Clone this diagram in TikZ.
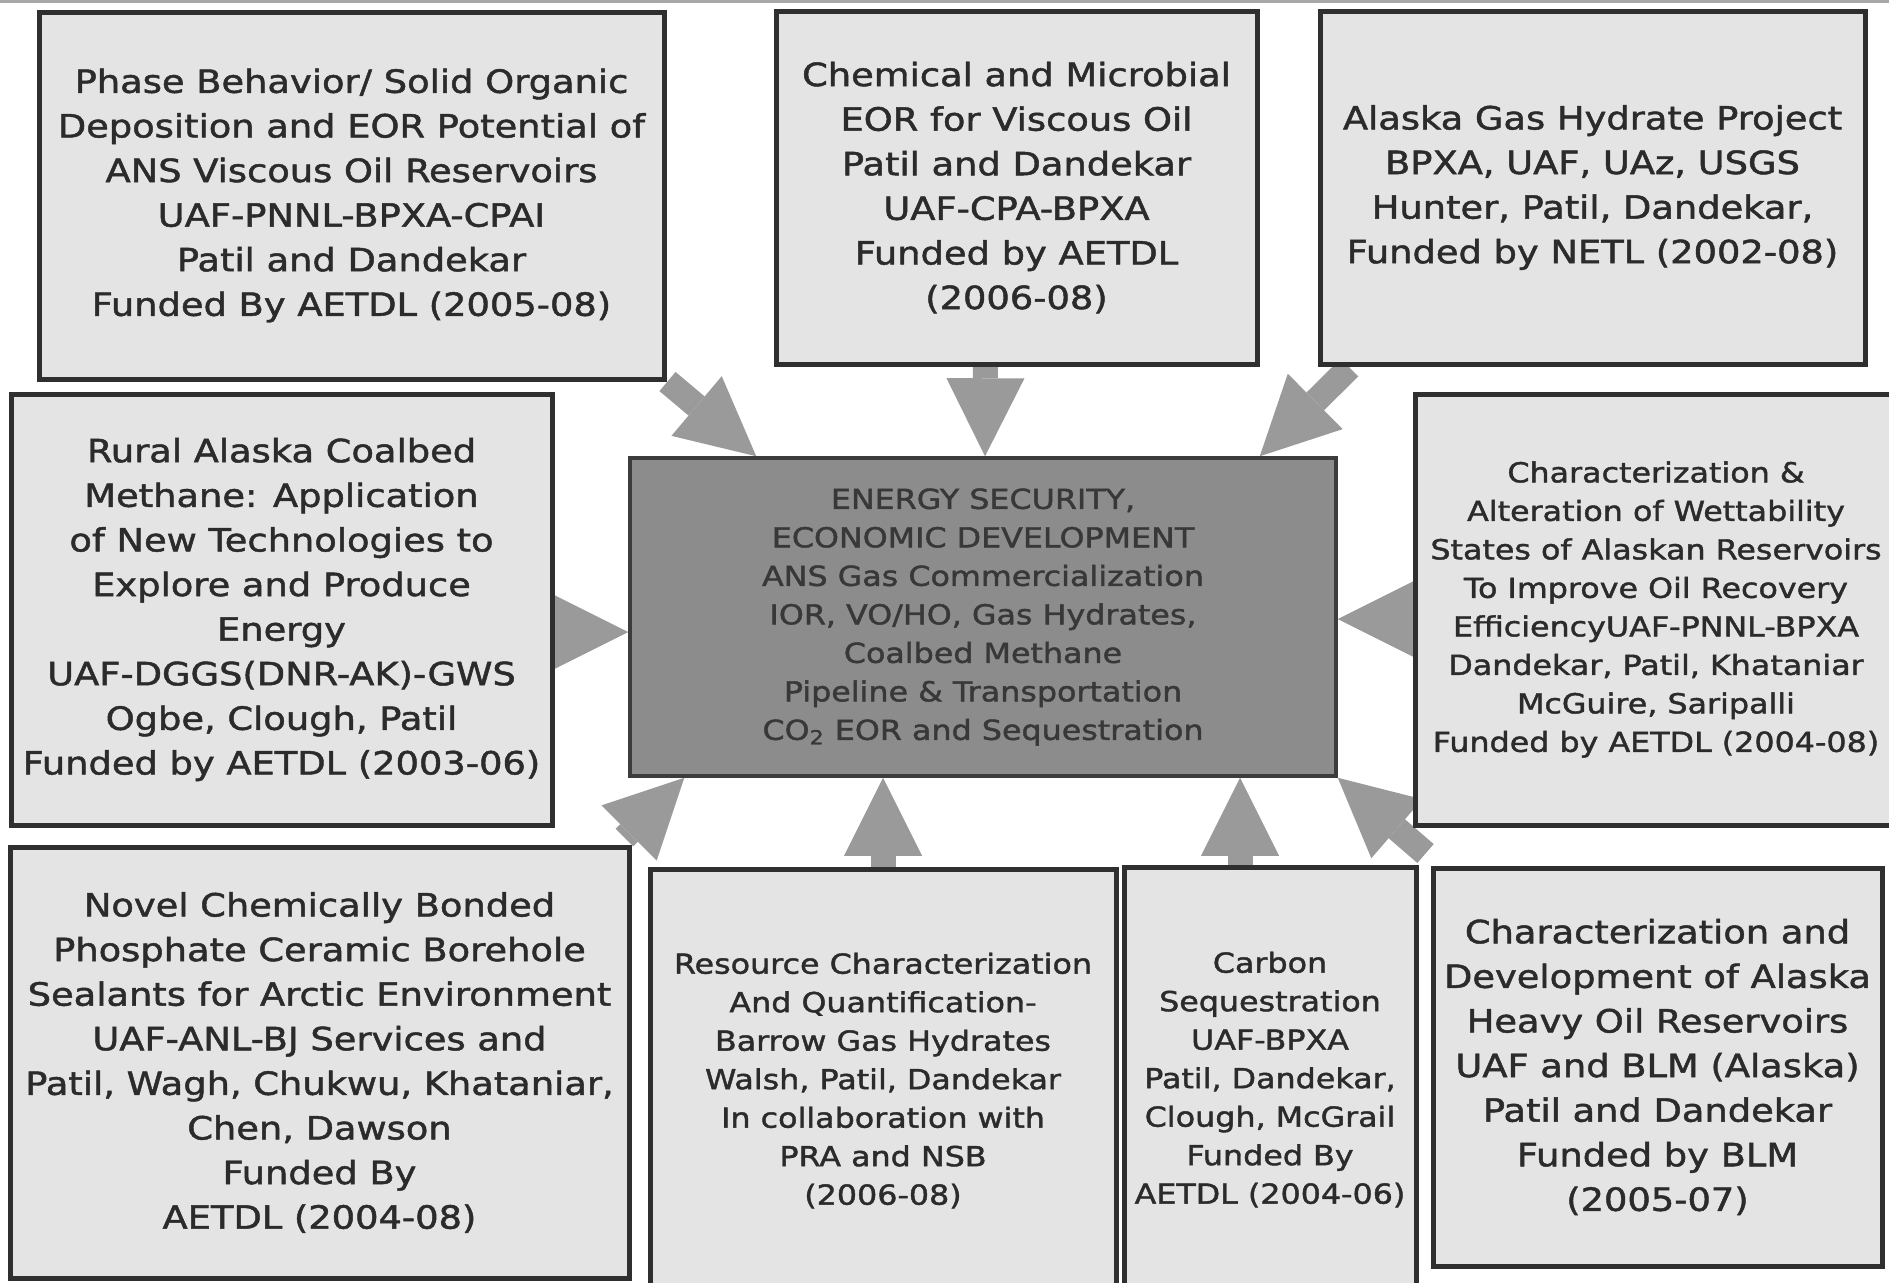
\documentclass[tikz,border=0pt]{standalone}
\usepackage{fontspec}
\setmainfont[FakeStretch=1.15,FakeBold=1.5]{DejaVu Sans}
\usetikzlibrary{arrows.meta,calc}

\definecolor{boxfill}{HTML}{E4E4E4}
\definecolor{boxline}{HTML}{2F2F2F}
\definecolor{boxtext}{HTML}{2B2B2B}
\definecolor{hubfill}{HTML}{8C8C8C}
\definecolor{hubline}{HTML}{3C3C3C}
\definecolor{hubtext}{HTML}{383838}
\definecolor{arrowgray}{HTML}{9A9A9A}
\definecolor{topband}{HTML}{A8A8A8}

\newcommand{\bigtext}{\fontsize{16}{22.3}\selectfont}
\newcommand{\smalltext}{\fontsize{13.8}{19.25}\selectfont}

\pgfdeclarelayer{back}
\pgfsetlayers{back,main}

\begin{document}
\begin{tikzpicture}[x=0.5pt,y=-0.5pt,
  project/.style 2 args={draw=boxline, line width=2.5pt, fill=boxfill, text=boxtext,
    align=center, inner sep=0pt, minimum width=#1*0.5pt, minimum height=#2*0.5pt},
  hub/.style 2 args={draw=hubline, line width=1.75pt, fill=hubfill, text=hubtext,
    align=center, inner sep=0pt, minimum width=#1*0.5pt, minimum height=#2*0.5pt},
  big/.style={font=\bigtext},
  small/.style={font=\smalltext},
  feed/.style={draw=arrowgray, line width=12.5pt, line cap=butt,
    -{Triangle[length=39pt, width=39pt, line width=0pt]}}
]
\useasboundingbox (0,0) rectangle (1889,1282);

% project boxes
\node[project={625}{367}, big] (A) at (351.5,195.5)
  {Phase Behavior/ Solid Organic\\ Deposition and EOR Potential of\\ ANS Viscous Oil Reservoirs\\ UAF-PNNL-BPXA-CPAI\\ Patil and Dandekar\\ Funded By AETDL (2005-08)};
\node[project={481}{353}, big] (B) at (1016.5,187.5)
  {Chemical and Microbial\\ EOR for Viscous Oil\\ Patil and Dandekar\\ UAF-CPA-BPXA\\ Funded by AETDL\\ (2006-08)};
\node[project={545}{353}, big] (C) at (1592.5,187.5)
  {Alaska Gas Hydrate Project\\ BPXA, UAF, UAz, USGS\\ Hunter, Patil, Dandekar,\\ Funded by NETL (2002-08)};
\node[project={541}{431}, big] (D) at (281.5,609.5)
  {Rural Alaska Coalbed\\ Methane: Application\\ of New Technologies to\\ Explore and Produce\\ Energy\\ UAF-DGGS(DNR-AK)-GWS\\ Ogbe, Clough, Patil\\ Funded by AETDL (2003-06)};
\node[hub={706}{318}, small] (E) at (983,617)
  {ENERGY SECURITY,\\ ECONOMIC DEVELOPMENT\\ ANS Gas Commercialization\\ IOR, VO/HO, Gas Hydrates,\\ Coalbed Methane\\ Pipeline \& Transportation\\ CO\textsubscript{2} EOR and Sequestration};
\node[project={482}{431}, small] (F) at (1656,609.5)
  {Characterization \&\\ Alteration of Wettability\\ States of Alaskan Reservoirs\\ To Improve Oil Recovery\\ EfficiencyUAF-PNNL-BPXA\\ Dandekar, Patil, Khataniar\\ McGuire, Saripalli\\ Funded by AETDL (2004-08)};
\node[project={619}{431}, big] (G) at (319.5,1062.5)
  {Novel Chemically Bonded\\ Phosphate Ceramic Borehole\\ Sealants for Arctic Environment\\ UAF-ANL-BJ Services and\\ Patil, Wagh, Chukwu, Khataniar,\\ Chen, Dawson\\ Funded By\\ AETDL (2004-08)};
\node[project={466}{423}, small] (H) at (883,1080.5)
  {Resource Characterization\\ And Quantification-\\ Barrow Gas Hydrates\\ Walsh, Patil, Dandekar\\ In collaboration with\\ PRA and NSB\\ (2006-08)};
\node[project={292}{425}, small] (I) at (1270,1079.5)
  {Carbon\\ Sequestration\\ UAF-BPXA\\ Patil, Dandekar,\\ Clough, McGrail\\ Funded By\\ AETDL (2004-06)};
\node[project={449}{398}, big] (J) at (1657.5,1067)
  {Characterization and\\ Development of Alaska\\ Heavy Oil Reservoirs\\ UAF and BLM (Alaska)\\ Patil and Dandekar\\ Funded by BLM\\ (2005-07)};

% thin band along the top edge
\fill[topband] (0,0) rectangle (1889,3);

% block arrows feeding the central box, kept underneath the boxes
\begin{pgfonlayer}{back}
  \fill[white] (0,0) rectangle (1889,1282);
  \draw[feed] ($(A.south east)+(1,0)$) -- ($(E.north west)+(128,0)$);
  \draw[feed] ($(B.south)+(-31,-5)$) -- ($(E.north)+(2,0)$);
  \draw[feed] ($(C.south west)+(32,1)$) -- ($(E.north east)+(-78,0)$);
  \draw[feed] ($(D.east)+(-20,22.5)$) -- ($(E.west)+(0,15)$);
  \draw[feed] ($(F.west)+(20,9.5)$) -- ($(E.east)+(0,2)$);
  \draw[feed] ($(G.north east)+(-7,-7)$) -- ($(E.south west)+(56,0)$);
  \draw[feed] (H.north) -- (H.north |- E.south);
  \coordinate (i8) at ($(I.north)+(-30,0)$);
  \draw[feed] (i8) -- (i8 |- E.south);
  \draw[feed] ($(J.north west)+(-5,-12)$) -- (E.south east);
\end{pgfonlayer}
\end{tikzpicture}
\end{document}
